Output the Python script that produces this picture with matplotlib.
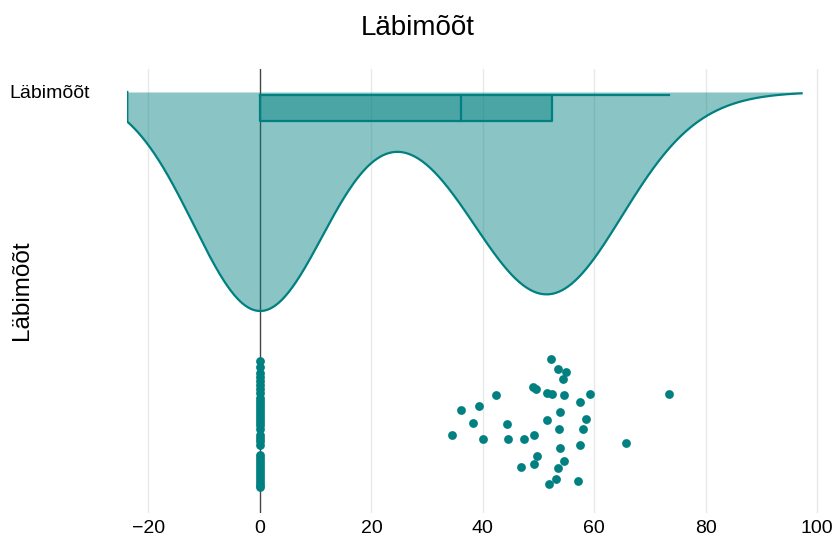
"""Half violin with box and jittered points for Läbimõõt."""

import numpy as np
import matplotlib
matplotlib.use("Agg")
import matplotlib.pyplot as plt

plt.rcParams["font.family"] = ["Liberation Sans", "DejaVu Sans"]

TITLE = "Läbimõõt"
CATEGORY = "Läbimõõt"

# values
zero_values = [0.0] * 35
nonzero_values = [
    52.3, 53.5, 54.9, 54.3, 49.0, 49.5, 51.5, 52.5, 54.6, 59.3,
    73.4, 42.3, 57.5, 39.4, 36.1, 53.8, 58.5, 38.3, 44.3, 51.5,
    53.6, 57.9, 34.4, 40.1, 44.5, 47.4, 49.1, 53.8, 57.5, 65.6,
    49.8, 54.6, 49.2, 46.9, 53.4, 53.2, 57.1, 51.8,
]
# vertical jitter within the point band, -1 (top) .. 1 (bottom)
zero_jitter = [
    -0.97, -0.88, -0.78,
    -0.72, -0.66, -0.59, -0.53, -0.47,
    -0.39, -0.34, -0.30, -0.25, -0.20, -0.16, -0.11, -0.06, -0.02, 0.03, 0.09,
    0.19, 0.23, 0.28, 0.34,
    0.50, 0.55, 0.59, 0.64, 0.69, 0.73, 0.78, 0.83, 0.88, 0.92, 0.97, 1.00,
]
nonzero_jitter = [
    -1.00, -0.85, -0.79, -0.69, -0.56, -0.53, -0.47, -0.46, -0.43, -0.45,
    -0.45, -0.43, -0.33, -0.27, -0.20, -0.17, -0.07, 0.00, 0.02, -0.04,
    0.09, 0.10, 0.18, 0.25, 0.25, 0.25, 0.18, 0.39, 0.35, 0.32,
    0.52, 0.60, 0.64, 0.69, 0.71, 0.87, 0.91, 0.96,
]

TEAL = "#008080"
PX = 219.0  # pixels per y unit (violin depth)

values = np.array(zero_values + nonzero_values)
jitter = np.array(zero_jitter + nonzero_jitter)

# kde, plotly-like: gaussian, span = min - 2bw .. max + 2bw
bw = 11.9
grid = np.linspace(values.min() - 2 * bw, values.max() + 2 * bw, 600)
dens = np.exp(-0.5 * ((grid[:, None] - values[None, :]) / bw) ** 2).sum(axis=1)
dens = dens / dens.max()

q1, med, q3 = np.percentile(values, [25, 50, 75])
iqr = q3 - q1
upper = values[values <= q3 + 1.5 * iqr].max()
lower = values[values >= q1 - 1.5 * iqr].min()

fig = plt.figure(figsize=(8.36, 5.4), dpi=100)
ax = fig.add_axes([127 / 836, 1 - 513 / 540, (820 - 127) / 836, (513 - 69) / 540])

# grid and zero line
for gx in [-20, 20, 40, 60, 80, 100]:
    ax.axvline(gx, color="#e8e8e8", lw=1.0, zorder=0)
ax.axvline(0, color="#444444", lw=1.0, zorder=1)

# violin (negative side)
ax.fill_between(grid, 0, -dens, color=TEAL, alpha=0.46, lw=0, zorder=2)
ax.plot(np.r_[grid[0], grid], np.r_[0, -dens], color=TEAL, lw=1.6, zorder=3)

# box
b_top, b_bot = -3 / PX, -29 / PX
ax.fill_between([q1, q3], b_bot, b_top, color=TEAL, alpha=0.45, lw=0, zorder=3)
ax.plot([q1, q3, q3, q1, q1], [b_top, b_top, b_bot, b_bot, b_top], color=TEAL, lw=1.6, zorder=4)
ax.plot([med, med], [b_top, b_bot], color=TEAL, lw=1.6, zorder=4)
ax.plot([q3, upper], [b_top, b_top], color=TEAL, lw=1.6, zorder=4)
ax.plot([lower, q1], [b_top, b_top], color=TEAL, lw=1.6, zorder=4)

# points
band_c = -(423 - 92) / PX
band_h = 64 / PX
ax.scatter(values, band_c - jitter * band_h, s=40, color=TEAL, lw=0, zorder=5)

ax.set_xlim(-23.85, 100.5)
ax.set_ylim(-(513 - 92) / PX, (92 - 69) / PX)
ax.set_xticks([-20, 0, 20, 40, 60, 80, 100])
ax.set_xticklabels(["\u221220", "0", "20", "40", "60", "80", "100"])
ax.set_yticks([0])
ax.set_yticklabels([CATEGORY])
ax.tick_params(axis="x", length=0, labelsize=14, pad=5)
ax.tick_params(axis="y", length=0, labelsize=14, pad=27)
for s in ax.spines.values():
    s.set_visible(False)
fig.text(22 / 836, 1 - 290 / 540, CATEGORY, rotation=90, ha="center", va="center", fontsize=17.5)
fig.text(0.5, 1 - 35 / 540, TITLE, ha="center", va="baseline", fontsize=20)

fig.savefig("out.png", dpi=100, facecolor="white")
